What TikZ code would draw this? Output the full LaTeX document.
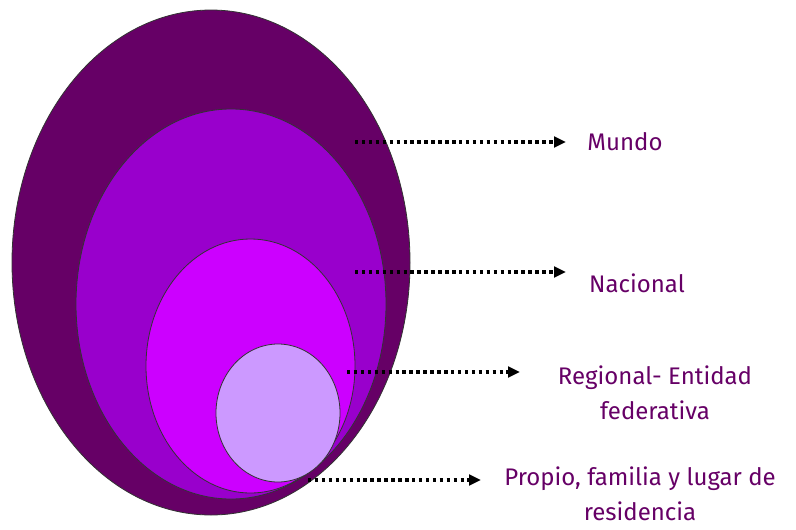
\documentclass[tikz,border=0pt]{standalone}
\usepackage{fontspec}
\setmainfont{Fira Sans}
\usetikzlibrary{shapes.geometric,arrows.meta}
\definecolor{cMundo}{HTML}{660066}
\definecolor{cNac}{HTML}{9900CC}
\definecolor{cReg}{HTML}{CC00FF}
\definecolor{cProp}{HTML}{CC99FF}
\definecolor{txt}{HTML}{660066}
\begin{document}
\begin{tikzpicture}[x=0.75pt,y=-0.75pt,
  ring/.style={ellipse, draw=black!80, line width=0.6pt, inner sep=0pt},
  lbl/.style={text=txt, font=\fontsize{18}{26}\selectfont, align=center},
  pointer/.style={line width=3pt, dash pattern=on 2.6pt off 2.6pt, -{Triangle[length=9pt,width=8pt]}}]
\useasboundingbox (0,0) rectangle (796,529);
\node[ring, fill=cMundo, minimum width=298.5pt, minimum height=378.75pt] (mundo) at (211,262.5) {};
\node[ring, fill=cNac, minimum width=232.5pt, minimum height=292.5pt] (nac) at (231,304) {};
\node[ring, fill=cReg, minimum width=156.75pt, minimum height=190.5pt] (reg) at (250.5,366) {};
\node[ring, fill=cProp, minimum width=93pt, minimum height=103.5pt] (prop) at (278,413) {};
\coordinate (a1) at (355,142);
\coordinate (a2) at (355,272);
\coordinate (a3) at (347,372);
\coordinate (a4) at (308,480);
\node[lbl] (tMundo) at (625,142) {Mundo};
\node[lbl] (tNac) at (637,283) {Nacional};
\node[lbl] (tReg) at (655,393) {Regional- Entidad\\federativa};
\node[lbl] (tProp) at (640,494) {Propio, familia y lugar de\\residencia};
\coordinate (b1) at (566,142);
\coordinate (b2) at (566,272);
\coordinate (b3) at (520,372);
\coordinate (b4) at (481,480);
\draw[pointer] (a1) -- (b1);
\draw[pointer] (a2) -- (b2);
\draw[pointer] (a3) -- (b3);
\draw[pointer] (a4) -- (b4);
\end{tikzpicture}
\end{document}
